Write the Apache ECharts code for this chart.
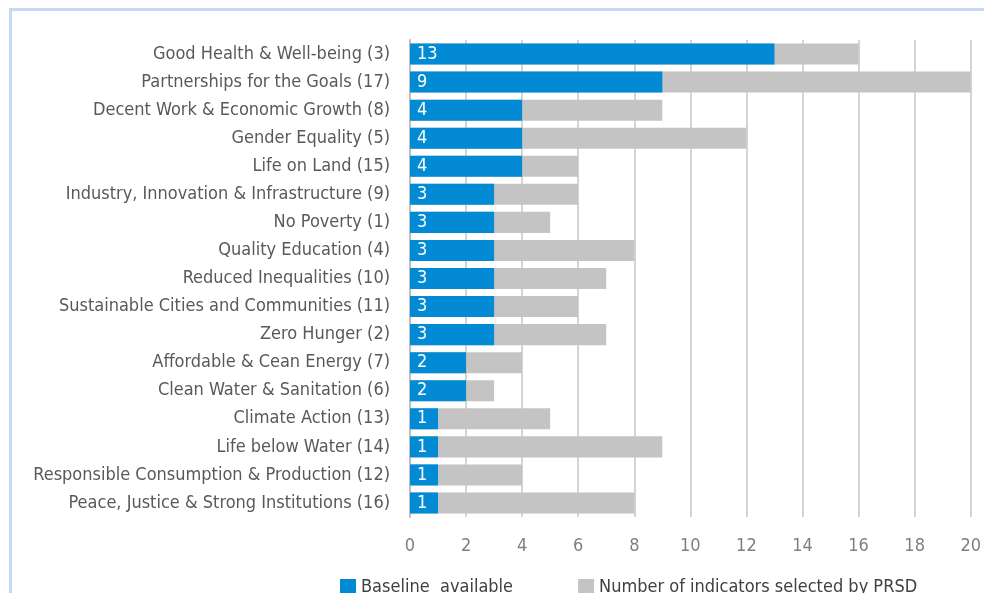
<!DOCTYPE html>
<html><head><meta charset="utf-8">
<script src="https://cdn.jsdelivr.net/npm/echarts@6/dist/echarts.min.js"></script>
<style>html,body{margin:0;padding:0;background:#fff;}#frame{position:absolute;left:9px;top:8px;width:990px;height:600px;border:3px solid #c6d9f0;box-sizing:border-box;}#c{position:absolute;left:0;top:0;width:984px;height:593px;}</style>
</head><body>
<div id="frame"></div>
<div id="c"></div>
<script>
const categories = ["Good Health & Well-being (3)","Partnerships for the Goals (17)","Decent Work & Economic Growth (8)","Gender Equality (5)","Life on Land (15)","Industry, Innovation & Infrastructure (9)","No Poverty (1)","Quality Education (4)","Reduced Inequalities (10)","Sustainable Cities and Communities (11)","Zero Hunger (2)","Affordable & Cean Energy (7)","Clean Water & Sanitation (6)","Climate Action (13)","Life below Water (14)","Responsible Consumption & Production (12)","Peace, Justice & Strong Institutions (16)"];
const baseline = [13,9,4,4,4,3,3,3,3,3,3,2,2,1,1,1,1];
const selected = [16,20,9,12,6,6,5,8,7,6,7,4,3,5,9,4,8];
const xTicks = [0,20,2];
const FONT = '"DejaVu Sans Condensed", "Liberation Sans Narrow", sans-serif';
const chart = echarts.init(document.getElementById('c'));
chart.setOption({
  animation:false,
  grid:{left:410,right:13,top:40,bottom:76,containLabel:false},
  legend:{
    data:['Baseline  available','Number of indicators selected by PRSD'],
    left:335, top:573, itemWidth:16, itemHeight:16, itemGap:65, icon:'rect',
    textStyle:{fontFamily:FONT,fontSize:18,color:'#404040'}
  },
  xAxis:{type:'value',min:xTicks[0],max:xTicks[1],interval:xTicks[2],
    axisLine:{show:false},axisTick:{show:false},
    axisLabel:{fontFamily:FONT,fontSize:18,color:'#7f7f7f',margin:20},
    splitLine:{lineStyle:{color:'#d4d4d4',width:2}}},
  yAxis:{type:'category',data:categories,inverse:true,
    axisLine:{lineStyle:{color:'#bfbfbf',width:2}},
    axisTick:{length:8,lineStyle:{color:'#bfbfbf',width:2}},
    axisLabel:{fontFamily:FONT,fontSize:18,color:'#595959',margin:20}},
  series:[
    {name:'Number of indicators selected by PRSD',type:'bar',data:selected,barWidth:'75%',
      itemStyle:{color:'#c4c4c4'},z:1},
    {name:'Baseline  available',type:'bar',data:baseline,barWidth:'75%',barGap:'-100%',
      itemStyle:{color:'#028bd4'},z:2,
      label:{show:true,position:'insideLeft',offset:[2,0],color:'#fff',fontFamily:FONT,fontSize:18}}
  ]
});
</script>
</body></html>
